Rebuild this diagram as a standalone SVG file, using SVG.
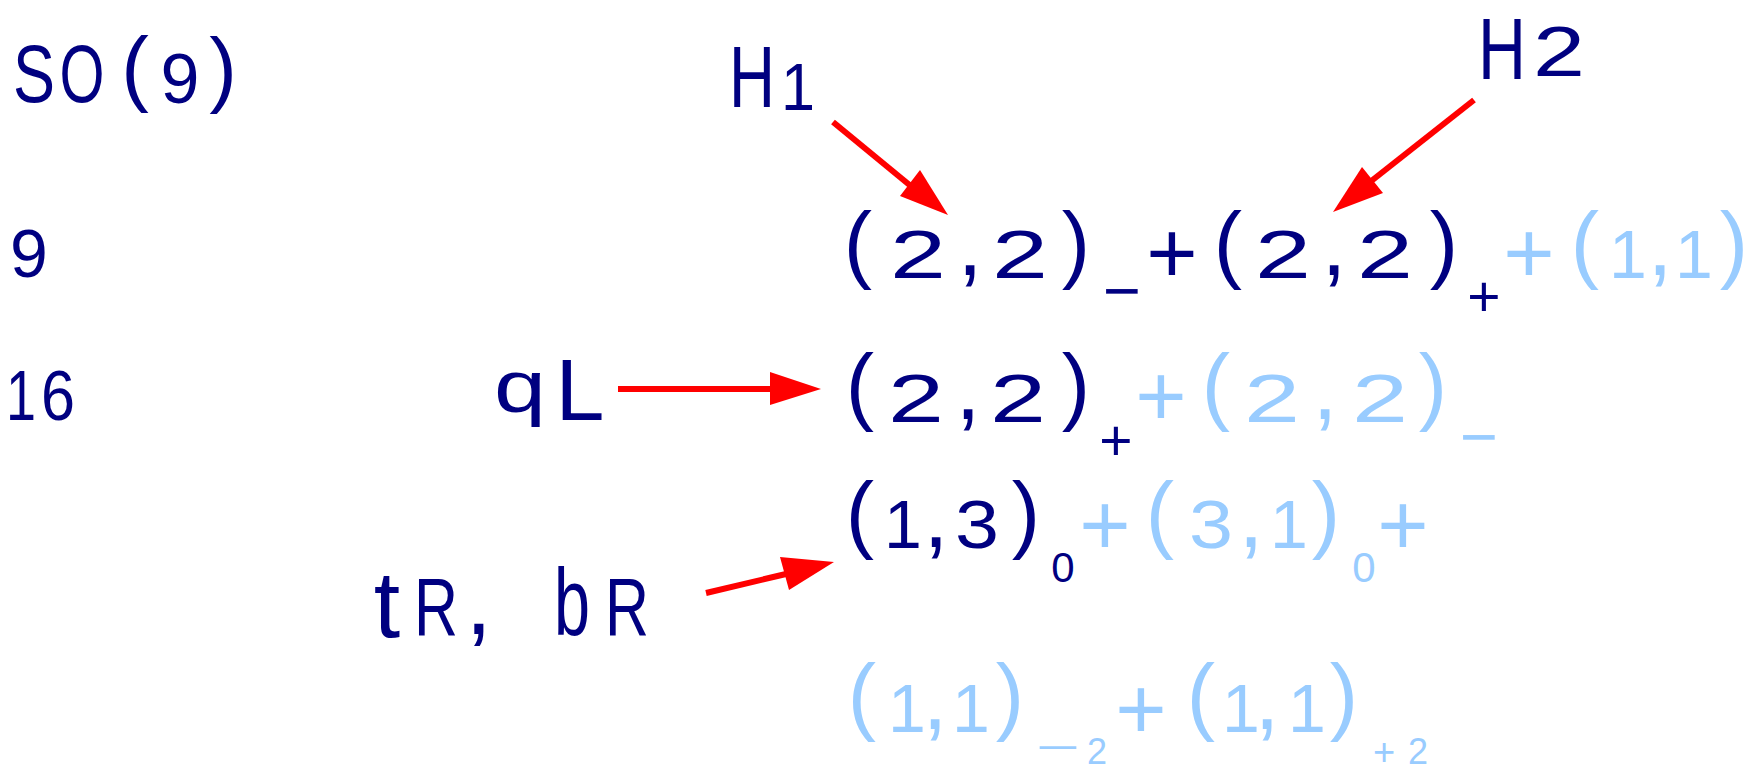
<svg xmlns="http://www.w3.org/2000/svg" width="1763" height="771" viewBox="0 0 1763 771">
<style>
text{font-family:"Liberation Sans",Arial,sans-serif;text-anchor:middle}
.d{fill:#000080}
.l{fill:#99ccff}
.p{font-size:85px}
.g{font-size:68px}
.c{font-size:90px}
.bp{font-size:88px}
.sm{font-size:65px}
.sp{font-size:57px}
.arrow line{stroke:#ff0000;stroke-width:6;stroke-linecap:butt}
.arrow polygon{fill:#ff0000}
</style>
<rect width="1763" height="771" fill="#ffffff"/>
<g id="so9"><text class="d"><tspan x="34" y="102" font-size="82" textLength="42" lengthAdjust="spacingAndGlyphs">S</tspan><tspan x="82" y="102" font-size="82" textLength="45" lengthAdjust="spacingAndGlyphs">O</tspan><tspan x="135" y="96" font-size="83">(</tspan><tspan x="180" y="103" font-size="70">9</tspan><tspan x="223" y="97" font-size="83">)</tspan></text></g>
<g id="dim9"><text class="d" x="29" y="277" font-size="68">9</text></g>
<g id="dim16"><text class="d"><tspan x="21" y="420" font-size="70" textLength="30" lengthAdjust="spacingAndGlyphs">1</tspan><tspan x="58" y="420" font-size="70" textLength="34" lengthAdjust="spacingAndGlyphs">6</tspan></text></g>
<g id="h1"><text class="d"><tspan x="752" y="107" font-size="88" textLength="46" lengthAdjust="spacingAndGlyphs">H</tspan><tspan x="798" y="110" font-size="67" textLength="34" lengthAdjust="spacingAndGlyphs">1</tspan></text></g>
<g id="h2"><text class="d"><tspan x="1502" y="79" font-size="88" textLength="48" lengthAdjust="spacingAndGlyphs">H</tspan><tspan x="1559" y="76" font-size="70" textLength="52" lengthAdjust="spacingAndGlyphs">2</tspan></text></g>
<g id="ql"><text class="d"><tspan x="520" y="412" font-size="75" textLength="52" lengthAdjust="spacingAndGlyphs">q</tspan><tspan x="580" y="420" font-size="88">L</tspan></text></g>
<g id="trbr"><text class="d"><tspan x="387" y="637" font-size="95">t</tspan><tspan x="436" y="635" font-size="81" textLength="44" lengthAdjust="spacingAndGlyphs">R</tspan><tspan x="492" y="634" font-size="95">, </tspan><tspan x="572" y="635" font-size="94" textLength="36" lengthAdjust="spacingAndGlyphs">b</tspan><tspan x="627" y="635" font-size="81" textLength="44" lengthAdjust="spacingAndGlyphs">R</tspan></text></g>
<g id="row1"><text><tspan class="d p" x="858" y="272">(</tspan><tspan class="d g" x="918" y="278" textLength="56" lengthAdjust="spacingAndGlyphs">2</tspan><tspan class="d c" x="970" y="275">,</tspan><tspan class="d g" x="1020" y="278" textLength="56" lengthAdjust="spacingAndGlyphs">2</tspan><tspan class="d p" x="1076" y="272">)</tspan><tspan class="d sm" x="1122" y="313">−</tspan><tspan class="d bp" x="1172" y="283">+</tspan><tspan class="d p" x="1228" y="272">(</tspan><tspan class="d g" x="1283" y="278" textLength="56" lengthAdjust="spacingAndGlyphs">2</tspan><tspan class="d c" x="1334" y="275">,</tspan><tspan class="d g" x="1385" y="278" textLength="56" lengthAdjust="spacingAndGlyphs">2</tspan><tspan class="d p" x="1444" y="272">)</tspan><tspan class="d sp" x="1484" y="316">+</tspan><tspan class="l bp" x="1529" y="283">+</tspan><tspan class="l p" x="1585" y="272">(</tspan><tspan class="l g" x="1628" y="278">1</tspan><tspan class="l c" x="1660" y="275">,</tspan><tspan class="l g" x="1694" y="278">1</tspan><tspan class="l p" x="1734" y="272">)</tspan></text></g>
<g id="row2"><text><tspan class="d p" x="860" y="414">(</tspan><tspan class="d g" x="916" y="422" textLength="56" lengthAdjust="spacingAndGlyphs">2</tspan><tspan class="d c" x="968" y="419">,</tspan><tspan class="d g" x="1018" y="422" textLength="56" lengthAdjust="spacingAndGlyphs">2</tspan><tspan class="d p" x="1076" y="414">)</tspan><tspan class="d sp" x="1116" y="460">+</tspan><tspan class="l bp" x="1161" y="426">+</tspan><tspan class="l p" x="1216" y="414">(</tspan><tspan class="l g" x="1272" y="422" textLength="56" lengthAdjust="spacingAndGlyphs">2</tspan><tspan class="l c" x="1325" y="419">,</tspan><tspan class="l g" x="1380" y="422" textLength="56" lengthAdjust="spacingAndGlyphs">2</tspan><tspan class="l p" x="1433" y="414">)</tspan><tspan class="l sm" x="1479" y="459">−</tspan></text></g>
<g id="row3"><text><tspan class="d p" x="860" y="542">(</tspan><tspan class="d g" x="903" y="548">1</tspan><tspan class="d c" x="936" y="547">,</tspan><tspan class="d g" x="977" y="548" textLength="44" lengthAdjust="spacingAndGlyphs">3</tspan><tspan class="d p" x="1026" y="542">)</tspan><tspan class="d" x="1063" y="582" font-size="42">0</tspan><tspan class="l bp" x="1105" y="555">+</tspan><tspan class="l p" x="1160" y="542">(</tspan><tspan class="l g" x="1211" y="548" textLength="44" lengthAdjust="spacingAndGlyphs">3</tspan><tspan class="l c" x="1251" y="547">,</tspan><tspan class="l g" x="1289" y="548">1</tspan><tspan class="l p" x="1326" y="542">)</tspan><tspan class="l" x="1364" y="582" font-size="42">0</tspan><tspan class="l bp" x="1403" y="555">+</tspan></text></g>
<g id="row4"><text><tspan class="l p" x="862" y="724">(</tspan><tspan class="l g" x="907" y="732">1</tspan><tspan class="l c" x="935" y="729">,</tspan><tspan class="l g" x="971" y="732">1</tspan><tspan class="l p" x="1010" y="724">)</tspan><tspan class="l" x="1058" y="761" font-size="40" textLength="44" lengthAdjust="spacingAndGlyphs">−</tspan><tspan class="l" x="1097" y="764" font-size="36">2</tspan><tspan class="l bp" x="1141" y="739">+</tspan><tspan class="l p" x="1201" y="724">(</tspan><tspan class="l g" x="1241" y="732">1</tspan><tspan class="l c" x="1267" y="729">,</tspan><tspan class="l g" x="1307" y="732">1</tspan><tspan class="l p" x="1344" y="724">)</tspan><tspan class="l" x="1384" y="765" font-size="38">+</tspan><tspan class="l" x="1418" y="764" font-size="36">2</tspan></text></g>
<g id="connectors" class="arrow">
<line x1="833" y1="122" x2="912" y2="187"/>
<polygon points="920,170 948,215 900,196"/>
<line x1="1474" y1="100" x2="1370" y2="182"/>
<polygon points="1362,167 1383,193 1333,212"/>
<line x1="618" y1="389" x2="774" y2="389"/>
<polygon points="770,372 821,389 770,405"/>
<line x1="706" y1="593" x2="786" y2="574"/>
<polygon points="780,557 834,562 789,590"/>
</g>
</svg>
